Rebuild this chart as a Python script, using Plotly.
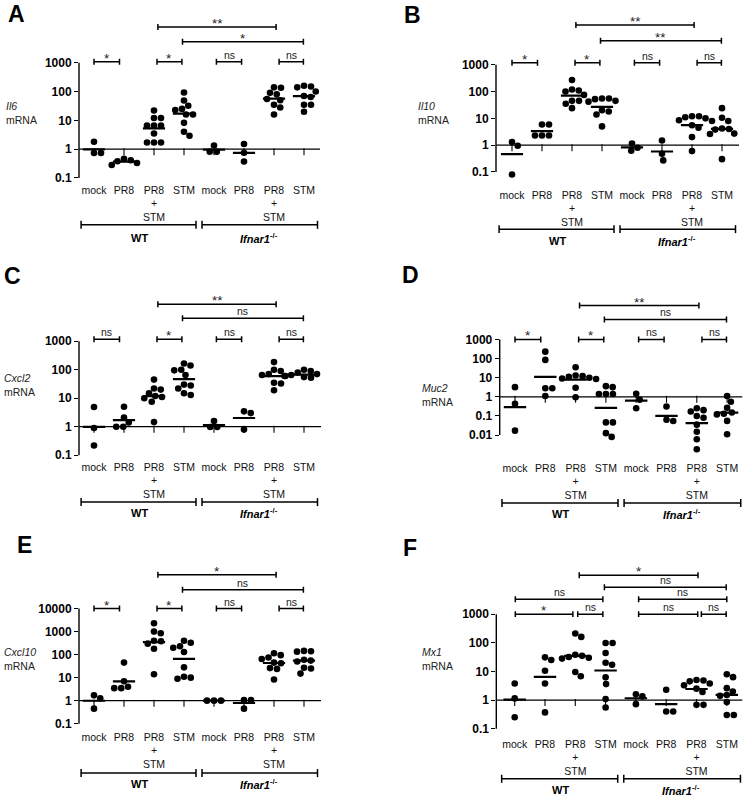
import numpy as np
import plotly.graph_objects as go

W, H = 743, 797
FONT = "Liberation Sans, Arial, sans-serif"

CATEGORIES = ["mock", "PR8", "PR8<br>+<br>STM", "STM", "mock", "PR8", "PR8<br>+<br>STM", "STM"]
GROUPS = ["<b>WT</b>", "<b><i>Ifnar1</i><sup>-/-</sup></b>"]
GENES = ["Il6", "Il10", "Cxcl2", "Muc2", "Cxcl10", "Mx1"]
LETTERS = ["A", "B", "C", "D", "E", "F"]

# relative mRNA per mouse; 8 groups: WT mock, PR8, PR8+STM, STM, Ifnar1-/- mock, PR8, PR8+STM, STM
il6 = [
    [1.8, 0.73, 0.73],
    [0.46, 0.41, 0.38, 0.33, 0.28],
    [22, 12, 12, 6.6, 6.6, 6.6, 3.5, 1.7, 1.7, 1.7],
    [93, 49, 32, 25, 23, 16, 16, 8.2, 4.0, 2.9],
    [1.34, 0.81, 0.81],
    [1.5, 0.75, 0.37],
    [140, 135, 90, 80, 55, 50, 35, 28, 16],
    [160, 150, 140, 100, 70, 65, 35, 35, 20],
]
il10 = [
    [1.3, 0.95, 0.08],
    [5.9, 5.9, 2.3, 2.3, 2.3],
    [270, 120, 110, 100, 75, 45, 45, 35, 24],
    [55, 55, 52, 45, 42, 20, 18, 14, 5],
    [1.15, 0.8, 0.62],
    [1.5, 0.48, 0.27],
    [12, 12, 11, 10, 8.5, 8, 5.5, 4.5, 2.0, 0.6],
    [24, 10.5, 8, 4.2, 4, 3.8, 2.7, 2.6, 0.3],
]
cxcl2 = [
    [4.9, 0.9, 0.22],
    [5.0, 2.1, 1.4, 1.0, 1.0],
    [45, 22, 20, 15, 12, 11, 10, 7.5, 1.45],
    [165, 140, 100, 95, 65, 30, 28, 22, 15, 13],
    [1.58, 0.97, 0.97],
    [3.45, 3.0, 0.79],
    [185, 100, 90, 70, 65, 60, 35, 33, 19],
    [100, 90, 80, 70, 65, 60, 55, 52, 50],
]
muc2 = [
    [3.2, 0.43, 0.017],
    [230, 85, 2.8, 2.8, 1.1],
    [35, 13, 12, 11, 10, 9, 8.5, 3.0, 0.95],
    [3.6, 3.2, 1.4, 1.4, 1.4, 0.046, 0.046, 0.0126, 0.008],
    [1.43, 0.7, 0.25],
    [0.31, 0.063, 0.054],
    [0.25, 0.2, 0.17, 0.1, 0.08, 0.035, 0.015, 0.006, 0.0018],
    [1.1, 0.55, 0.27, 0.15, 0.13, 0.12, 0.055, 0.011],
]
cxcl10 = [
    [1.7, 1.26, 0.45],
    [45, 7, 4, 3.5, 3.5],
    [2300, 1000, 850, 400, 380, 300, 180, 14],
    [400, 330, 230, 200, 130, 28, 11, 10, 9],
    [1.0, 1.0, 1.0],
    [1.05, 1.05, 0.45],
    [115, 95, 75, 65, 45, 42, 26, 24, 8.3],
    [145, 140, 135, 60, 55, 50, 27, 25, 15],
]
mx1 = [
    [3.8, 1.14, 0.25],
    [31, 25, 10.5, 3.8, 0.37],
    [210, 160, 38, 35, 32, 30, 28, 9.5, 6.8],
    [98, 98, 44, 20, 17, 6.2, 3.6, 1.08, 0.55],
    [1.6, 1.34, 0.72],
    [2.3, 0.4, 0.4],
    [5.0, 4.8, 4.5, 3.8, 3.3, 2.5, 1.9, 0.68, 0.68],
    [8.0, 6.3, 2.6, 2.0, 1.5, 1.4, 0.85, 0.3, 0.3],
]

# significance brackets: (from group, to group, label, stacking level)
sig_il6 = [(0.0, 0.85, "*", 0), (2.1, 2.93, "*", 0), (4.08, 4.92, "ns", 0), (6.17, 6.98, "ns", 0),
           (2.95, 6.98, "*", 1), (2.13, 6.07, "**", 2)]
sig_il10 = [(0.0, 0.85, "*", 0), (2.1, 2.93, "*", 0), (4.08, 4.92, "ns", 0), (6.17, 6.98, "ns", 0),
            (2.95, 6.98, "**", 1), (2.13, 6.07, "**", 2)]
sig_cxcl2 = [(0.0, 0.85, "ns", 0), (2.1, 2.93, "*", 0), (4.08, 4.92, "ns", 0), (6.17, 6.98, "ns", 0),
             (2.95, 6.98, "ns", 1), (2.13, 6.07, "**", 2)]
sig_muc2 = [(0.0, 0.85, "*", 0), (2.1, 2.93, "*", 0), (4.08, 4.92, "ns", 0), (6.17, 6.98, "ns", 0),
            (2.95, 6.98, "ns", 1), (2.13, 6.07, "**", 2)]
sig_cxcl10 = [(0.0, 0.85, "*", 0), (2.1, 2.93, "*", 0), (4.08, 4.92, "ns", 0), (6.17, 6.98, "ns", 0),
              (2.95, 6.98, "ns", 1), (2.13, 6.07, "*", 2)]
sig_mx1 = [(0.02, 1.92, "*", 0), (2.08, 2.91, "ns", 0), (4.09, 6.04, "ns", 0), (6.16, 6.98, "ns", 0),
           (0.02, 2.91, "ns", 1), (4.09, 7.0, "ns", 1), (2.96, 6.98, "ns", 2), (2.13, 6.05, "*", 3)]

DATA = [il6, il10, cxcl2, muc2, cxcl10, mx1]
SIGS = [sig_il6, sig_il10, sig_cxcl2, sig_muc2, sig_cxcl10, sig_mx1]

# layout geometry (pixels)
GEOM = [
    dict(cat0=94, sp=30, axis=79, right=320, y1=149.7, ppd=28.9, ymin=0.1, ymax=1000, top=8, bottom=183,
         lev=[1, 21, 36], gline=225.7, glab=239.3, tx=4, ty=113.3, let=(16, 14)),
    dict(cat0=512, sp=30, axis=496, right=739, y1=145.7, ppd=26.9, ymin=0.1, ymax=1000, top=8, bottom=188,
         lev=[2, 24, 40], gline=230, glab=241.7, tx=416, ty=113, let=(412, 15)),
    dict(cat0=94, sp=30, axis=79, right=321, y1=428.3, ppd=28.6, ymin=0.1, ymax=1000, top=288, bottom=461,
         lev=[2, 23, 37], gline=504, glab=515, tx=2, ty=386.5, let=(13, 277)),
    dict(cat0=515, sp=30.3, axis=499.7, right=742.5, y1=398.3, ppd=19.2, ymin=0.01, ymax=1000, top=288, bottom=462,
         lev=[0, 20, 34], gline=505, glab=515.7, tx=420, ty=396.7, let=(411, 276)),
    dict(cat0=94, sp=30, axis=79, right=321, y1=703.3, ppd=23.1, ymin=0.1, ymax=10000, top=560, bottom=732,
         lev=[0, 19, 34], gline=776, glab=787.3, tx=2, ty=661.3, let=(24, 547)),
    dict(cat0=514.7, sp=30.3, axis=496.3, right=742.5, y1=702.7, ppd=28.75, ymin=0.1, ymax=1000, top=565, bottom=739,
         lev=[0, 15, 27, 39], gline=781.7, glab=793.3, tx=420, ty=661.7, let=(410, 550)),
]


def swarm(vals, ppd, d=6.8):
    """Simple beeswarm: horizontal pixel offsets so dots do not overlap."""
    ys = np.log10(np.asarray(vals, float)) * ppd
    order = np.argsort(-ys, kind="stable")
    steps = np.arange(0, 60, 0.25)
    cands = [0.0]
    for s in steps[1:]:
        cands += [s, -s]
    placed, xs = [], np.zeros(len(ys))
    for i in order:
        for c in cands:
            if all((c - px) ** 2 + (ys[i] - py) ** 2 >= d * d for px, py in placed):
                break
        xs[i] = c
        placed.append((c, ys[i]))
    return xs


def tick_label(v):
    return f"<b>{v:g}</b>"


fig = go.Figure()
layout = dict(width=W, height=H, margin=dict(l=0, r=0, t=0, b=0), paper_bgcolor="white",
              plot_bgcolor="white", showlegend=False, font=dict(family=FONT, color="black"))
shapes, annotations = [], []

for i, (g, data, sig) in enumerate(zip(GEOM, DATA, SIGS)):
    n = i + 1
    sfx = "" if n == 1 else str(n)
    xr, yr = "x" + sfx, "y" + sfx
    xl = (g["axis"] - g["cat0"]) / g["sp"]
    xh = (g["right"] - g["cat0"]) / g["sp"]
    ylo = (g["y1"] - g["bottom"]) / g["ppd"]
    yhi = (g["y1"] - g["top"]) / g["ppd"]
    layout["xaxis" + sfx] = dict(domain=[g["axis"] / W, g["right"] / W], range=[xl, xh], anchor=yr,
                                 showgrid=False, zeroline=False, showline=False, ticks="",
                                 tickvals=list(range(8)), ticktext=CATEGORIES,
                                 tickfont=dict(size=10.5, color="#111"), fixedrange=True)
    decades = np.arange(round(np.log10(g["ymin"])), round(np.log10(g["ymax"])) + 1)
    tv = [10.0 ** d for d in decades]
    layout["yaxis" + sfx] = dict(domain=[1 - g["bottom"] / H, 1 - g["top"] / H], type="log",
                                 range=[ylo, yhi], anchor=xr, showgrid=False, zeroline=False,
                                 showline=False, ticks="outside", ticklen=4, tickwidth=1.3,
                                 tickcolor="black", tickvals=tv, ticktext=[tick_label(v) for v in tv],
                                 tickfont=dict(size=12), fixedrange=True)
    # y-axis line from lowest to highest decade
    shapes.append(dict(type="line", xref=xr + " domain", yref=yr, x0=0, x1=0, y0=g["ymin"], y1=g["ymax"],
                       line=dict(color="black", width=1.4)))
    # baseline at 1 with category ticks
    fig.add_trace(go.Scatter(x=[xl, xh], y=[1, 1], mode="lines", line=dict(color="black", width=1.3),
                             xaxis=xr, yaxis=yr, hoverinfo="skip"))
    fig.add_trace(go.Scatter(x=list(range(8)), y=[10 ** (-2.5 / g["ppd"])] * 8, mode="markers",
                             marker=dict(symbol="line-ns", size=5, line=dict(width=1.1, color="black")),
                             xaxis=xr, yaxis=yr, hoverinfo="skip"))
    # geometric mean lines
    mx, my = [], []
    for k, vals in enumerate(data):
        gm = 10 ** np.mean(np.log10(vals))
        mx += [k - 0.37, k + 0.37, None]
        my += [gm, gm, None]
    fig.add_trace(go.Scatter(x=mx, y=my, mode="lines", line=dict(color="black", width=2.2),
                             xaxis=xr, yaxis=yr, hoverinfo="skip"))
    # dots
    dx, dy = [], []
    for k, vals in enumerate(data):
        off = swarm(vals, g["ppd"]) / g["sp"]
        dx += list(k + off)
        dy += list(vals)
    fig.add_trace(go.Scatter(x=dx, y=dy, mode="markers", marker=dict(size=6.6, color="black"),
                             xaxis=xr, yaxis=yr, cliponaxis=False, hoverinfo="skip"))
    # significance brackets
    bx, by = [], []
    cap = 10 ** (3.0 / g["ppd"])
    for (x0, x1, txt, lev) in sig:
        yb = g["ymax"] * 10 ** (g["lev"][lev] / g["ppd"])
        bx += [x0, x0, None, x0, x1, None, x1, x1, None]
        by += [yb / cap, yb * cap, None, yb, yb, None, yb / cap, yb * cap, None]
        star = txt.startswith("*")
        annotations.append(dict(x=(x0 + x1) / 2, y=np.log10(yb), xref=xr, yref=yr, text=txt,
                                showarrow=False, yanchor="bottom", yshift=-6 if star else -1,
                                font=dict(size=13.5 if star else 10.5, color="#222")))
    fig.add_trace(go.Scatter(x=bx, y=by, mode="lines", line=dict(color="black", width=1.5),
                             xaxis=xr, yaxis=yr, hoverinfo="skip"))
    # genotype group brackets below axis
    yg = 1 - g["gline"] / H
    gc = 4 / H
    for (gx0, gx1), lab, cx in zip([(-0.43, 3.4), (3.6, 7.45)], GROUPS, [1.5, 5.5]):
        shapes.append(dict(type="line", xref=xr, yref="paper", x0=gx0, x1=gx1, y0=yg, y1=yg,
                           line=dict(color="black", width=1.5)))
        for gxx in (gx0, gx1):
            shapes.append(dict(type="line", xref=xr, yref="paper", x0=gxx, x1=gxx, y0=yg - gc, y1=yg + gc,
                               line=dict(color="black", width=1.5)))
        annotations.append(dict(x=cx, y=1 - g["glab"] / H, xref=xr, yref="paper", text=lab,
                                showarrow=False, yanchor="middle", font=dict(size=11)))
    # y title
    annotations.append(dict(x=g["tx"] / W, y=1 - g["ty"] / H, xref="paper", yref="paper",
                            text=f"<i>{GENES[i]}</i><br>mRNA", showarrow=False, xanchor="left",
                            yanchor="middle", align="left", font=dict(size=10.5, color="#222")))
    # panel letter
    annotations.append(dict(x=g["let"][0] / W, y=1 - g["let"][1] / H, xref="paper", yref="paper",
                            text=f"<b>{LETTERS[i]}</b>", showarrow=False, xanchor="center",
                            yanchor="middle", font=dict(size=23)))

layout["shapes"] = shapes
layout["annotations"] = annotations
fig.update_layout(**layout)
fig.write_html("out.html", config={"displayModeBar": False},
               post_script="document.body.style.margin='0';")
